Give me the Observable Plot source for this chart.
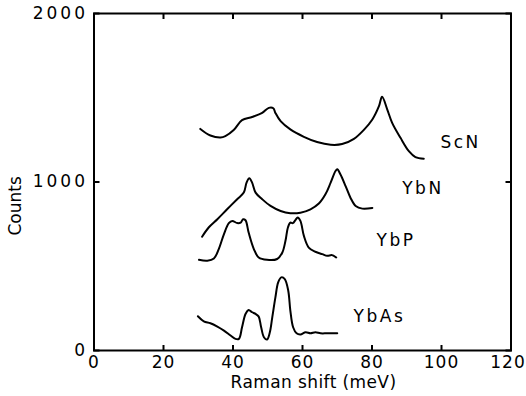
<!DOCTYPE html>
<html><head><meta charset="utf-8">
<script src="https://cdn.jsdelivr.net/npm/d3@7"></script>
<script src="https://cdn.jsdelivr.net/npm/@observablehq/plot@0.6"></script>
<style>
body{margin:0;background:#fff}
g[aria-label="y-axis tick label"] text{letter-spacing:3px}
g[aria-label="x-axis tick label"] text{letter-spacing:1px}
</style>
</head><body><div id="chart"></div>
<script>
// Raman shift (meV) and counts for each compound
const scnX = [30.6,33.5,36.4,37.8,40.2,42.6,45.5,48.4,50.3,51.6,52.2,53.7,56.5,60.4,64.2,68.1,71.4,74.8,77.6,80.1,82.0,82.9,84.4,85.8,88.2,90.6,92.5,94.9];
const scnY = [1315,1276,1264,1272,1308,1367,1386,1410,1440,1438,1410,1361,1312,1268,1237,1221,1225,1256,1308,1371,1450,1506,1430,1351,1262,1183,1148,1138];
const ybnX = [31.1,33.0,35.5,38.3,41.2,43.1,43.9,44.7,45.5,46.5,48.4,50.8,53.7,56.5,59.4,62.3,64.7,66.6,68.1,69.5,70.0,70.9,72.4,73.8,75.3,77.2,80.1];
const ybnY = [675,730,779,838,898,937,996,1022,996,937,898,858,828,815,818,838,872,927,996,1065,1075,1046,976,907,858,842,846];
const ybpX = [30.2,32.6,34.5,35.9,37.4,38.8,39.8,41.2,42.2,42.9,43.6,44.5,46.0,47.4,49.8,52.7,54.2,55.1,55.8,56.5,57.2,58.0,58.6,59.4,60.4,61.8,63.7,65.7,67.1,68.5,69.7];
const ybpY = [538,533,546,602,691,756,769,756,759,779,773,700,602,552,538,543,582,651,730,759,756,775,789,769,680,611,586,572,562,566,552];
const ybasX = [29.9,31.6,33.5,35.5,37.4,39.3,40.7,41.7,42.6,43.6,44.5,45.5,46.5,47.4,48.1,48.9,49.8,50.6,51.3,52.2,53.0,53.9,54.9,55.9,56.5,57.3,58.3,59.4,60.9,62.3,63.7,65.2,67.1,70.0];
const ybasY = [203,173,162,142,118,89,69,69,138,217,241,227,217,201,138,79,65,108,197,315,404,434,424,355,237,138,102,95,108,102,108,102,102,102];

const seriesNames = ["ScN","YbN","YbP","YbAs"];
const labelX = [99.7, 88.7, 81.3, 74.7];
const labelY = [1234, 959, 651, 201];
const xTicks = [0,20,40,60,80,100,120];
const yTicks = [0,1000,2000];
const xTitle = "Raman shift (meV)";
const yTitle = "Counts";
const yTitleAt = 858;

const seriesX = [scnX, ybnX, ybpX, ybasX];
const seriesY = [scnY, ybnY, ybpY, ybasY];
const rows = [];
seriesNames.forEach((name, i) => {
  seriesX[i].forEach((x, j) => rows.push({series: name, x, y: seriesY[i][j]}));
});
const labels = seriesNames.map((name, i) => ({name, x: labelX[i], y: labelY[i]}));

const chart = Plot.plot({
  width: 526, height: 396,
  marginLeft: 93.5, marginRight: 15.5, marginTop: 13, marginBottom: 46,
  x: {domain: [0, 120]},
  y: {domain: [0, 2000]},
  style: {fontFamily: "DejaVu Sans", fontSize: "17px", color: "#000", background: "#fff"},
  marks: [
    Plot.frame({strokeWidth: 2}),
    Plot.axisX({ticks: xTicks, tickSize: -5, tickPadding: 10, label: null, strokeWidth: 2}),
    Plot.axisX({anchor: "top", ticks: xTicks, tickSize: -5, tickFormat: () => "", label: null, strokeWidth: 2}),
    Plot.axisY({ticks: yTicks, tickSize: -6, tickPadding: 12, label: null, strokeWidth: 2, tickFormat: d => String(d)}),
    Plot.axisY({anchor: "right", ticks: yTicks, tickSize: -6, tickFormat: () => "", label: null, strokeWidth: 2}),
    Plot.line(rows, {x: "x", y: "y", z: "series", stroke: "#000", strokeWidth: 2, curve: "catmull-rom"}),
    Plot.text(labels, {x: "x", y: "y", text: "name", textAnchor: "start", fontSize: 17}),
    Plot.text([{t: yTitle, y: yTitleAt}], {y: "y", text: "t", frameAnchor: "left", textAnchor: "middle", lineAnchor: "middle", rotate: -90, dx: -78, fontSize: 17}),
    Plot.text([xTitle], {frameAnchor: "bottom", textAnchor: "middle", lineAnchor: "middle", dx: 11, dy: 32, fontSize: 17})
  ]
});
const svg = d3.select(chart);
svg.selectAll("text")
  .filter(function() { return seriesNames.includes(this.textContent); })
  .style("letter-spacing", "2.5px");
svg.selectAll("text")
  .filter(function() { return this.textContent === xTitle; })
  .style("letter-spacing", "0.4px");
svg.selectAll('g[aria-label="x-axis tick label"] text')
  .filter(function() { return this.textContent === String(xTicks[xTicks.length - 1]); })
  .attr("dx", -3);
document.getElementById("chart").appendChild(chart);
</script>
</body></html>
